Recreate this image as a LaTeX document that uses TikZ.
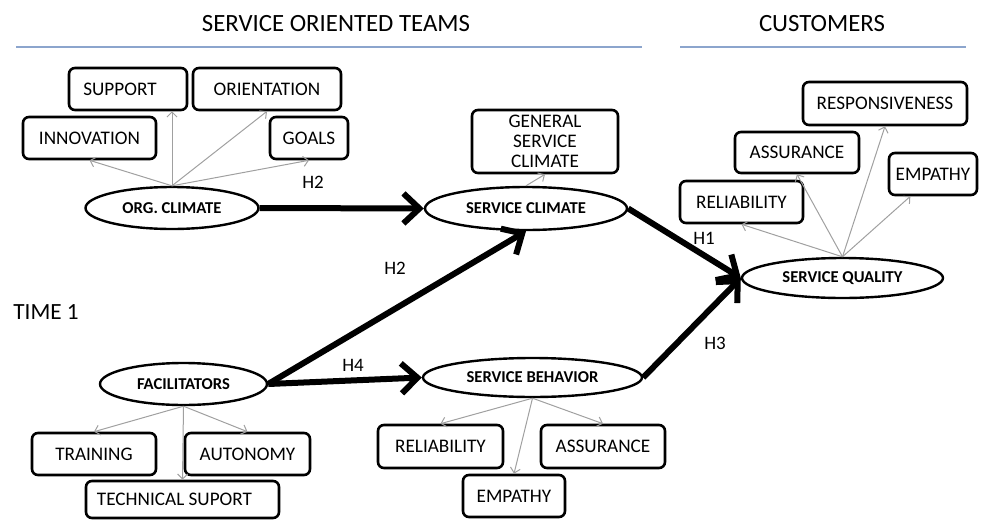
\documentclass[tikz,border=0pt]{standalone}
\usepackage{fontspec}
\setmainfont{Carlito}
\usetikzlibrary{arrows.meta,shapes.geometric,calc}
\definecolor{rulecol}{RGB}{140,165,205}
\definecolor{feedcol}{RGB}{160,160,160}
\begin{document}
\begin{tikzpicture}[x=0.5pt,y=-0.5pt,
  box/.style={draw=black, line width=1.3pt, rounded corners=3pt, minimum height=21pt,
    inner sep=0pt, font=\fontsize{9.6}{10.5}\selectfont, align=center},
  oval/.style={ellipse, draw=black, line width=1.2pt, inner sep=0pt,
    font=\bfseries\fontsize{8.3}{9}\selectfont},
  feed/.style={draw=feedcol, line width=0.5pt, -{Straight Barb[length=2.5pt,width=5pt]}},
  mainarrow/.style={line width=3pt, -{Straight Barb[length=8pt,width=15pt]}},
  hlbl/.style={font=\fontsize{9.5}{10}\selectfont, inner sep=0pt},
  headlbl/.style={font=\fontsize{12.4}{13}\selectfont, inner sep=0pt},
  rulestyle/.style={draw=rulecol, line width=0.6pt}
]
\useasboundingbox (0,0) rectangle (981,520);

% headings
\node[headlbl] (tteams) at (336,24) {SERVICE ORIENTED TEAMS};
\node[headlbl] (tcust) at (822,24) {CUSTOMERS};
\coordinate (r1a) at (16,47); \coordinate (r1b) at (642,47);
\coordinate (r2a) at (680,47); \coordinate (r2b) at (966,47);
\draw[rulestyle] (r1a) -- (r1b);
\draw[rulestyle] (r2a) -- (r2b);
\node[font=\fontsize{11.6}{13}\selectfont, inner sep=0pt, anchor=west] (time1) at (13,312) {TIME 1};

% ellipses
\node[oval, minimum width=86.5pt, minimum height=21pt] (orgc) at (172,208) {ORG. CLIMATE};
\node[oval, minimum width=101pt, minimum height=21.5pt] (servc) at (526,208.5) {SERVICE CLIMATE};
\node[oval, minimum width=100.5pt, minimum height=20pt] (servq) at (842.5,278) {SERVICE QUALITY};
\node[oval, minimum width=83.5pt, minimum height=21pt] (fac) at (183.5,384) {FACILITATORS};
\node[oval, minimum width=109.5pt, minimum height=19.5pt] (servb) at (532.5,377.5) {SERVICE BEHAVIOR};

% org climate boxes
\node[box, minimum width=59pt] (support) at (128,89) {\hspace*{-8pt}SUPPORT};
\node[box, minimum width=74pt] (orient) at (267,89) {ORIENTATION};
\node[box, minimum width=66.5pt] (innov) at (89.5,138) {INNOVATION};
\node[box, minimum width=39pt] (goals) at (309,138) {GOALS};

% service climate box
\node[box, minimum width=73pt, minimum height=31.5pt, font=\fontsize{9.6}{10}\selectfont] (gsc) at (545,141.5) {GENERAL\\SERVICE\\CLIMATE};

% service quality boxes
\node[box, minimum width=82pt, minimum height=21.5pt] (resp) at (885,103.5) {RESPONSIVENESS};
\node[box, minimum width=62pt, minimum height=20.5pt] (assur) at (797,152.5) {ASSURANCE};
\node[box, minimum width=44pt] (emp) at (933,174) {EMPATHY};
\node[box, minimum width=61.5pt] (rel) at (741.5,202) {RELIABILITY};

% facilitators boxes
\node[box, minimum width=62pt] (train) at (94,454) {TRAINING};
\node[box, minimum width=62.5pt] (auton) at (247.5,454) {AUTONOMY};
\node[box, minimum width=96.5pt, minimum height=18.5pt] (tech) at (182.5,499.5) {\hspace*{-8pt}TECHNICAL SUPORT};

% service behavior boxes
\node[box, minimum width=62.5pt, minimum height=21.5pt] (brel) at (440.5,446.5) {RELIABILITY};
\node[box, minimum width=62pt, minimum height=21.5pt] (bassur) at (603,446.5) {ASSURANCE};
\node[box, minimum width=51pt] (bemp) at (514,496) {EMPATHY};

% feeder arrows
\draw[feed] (orgc.north) -- (innov.south);
\draw[feed] (orgc.north) -- (support.south -| orgc.north);
\draw[feed] (orgc.north) -- (orient.south);
\draw[feed] (orgc.north) -- (goals.south);
\draw[feed] (servc.north) -- (gsc.south);
\draw[feed] (servq.north) -- (rel.south);
\draw[feed] (servq.north) -- (assur.south);
\draw[feed] (servq.north) -- (resp.south);
\draw[feed] (servq.north) -- ($(emp.south west)!0.25!(emp.south east)$);
\draw[feed] (fac.south) -- (train.north);
\draw[feed] (fac.south) -- (tech.north);
\draw[feed] (fac.south) -- (auton.north);
\draw[feed] (servb.south) -- (brel.north);
\draw[feed] (servb.south) -- (bemp.north);
\draw[feed] (servb.south) -- (bassur.north);

% main arrows
\draw[mainarrow] (orgc.east) -- (servc.west);
\draw[mainarrow] (fac.east) -- (servc.south);
\draw[mainarrow] (fac.east) -- (servb.west);
\draw[mainarrow] (servc.east) -- (servq.west);
\draw[mainarrow] (servb.east) -- (servq.west);

% hypothesis labels
\node[hlbl] (h2a) at (313,182) {H2};
\node[hlbl] (h2b) at (395,268) {H2};
\node[hlbl] (h4) at (353,365) {H4};
\node[hlbl] (h1) at (704,238) {H1};
\node[hlbl] (h3) at (715,343) {H3};
\end{tikzpicture}
\end{document}
